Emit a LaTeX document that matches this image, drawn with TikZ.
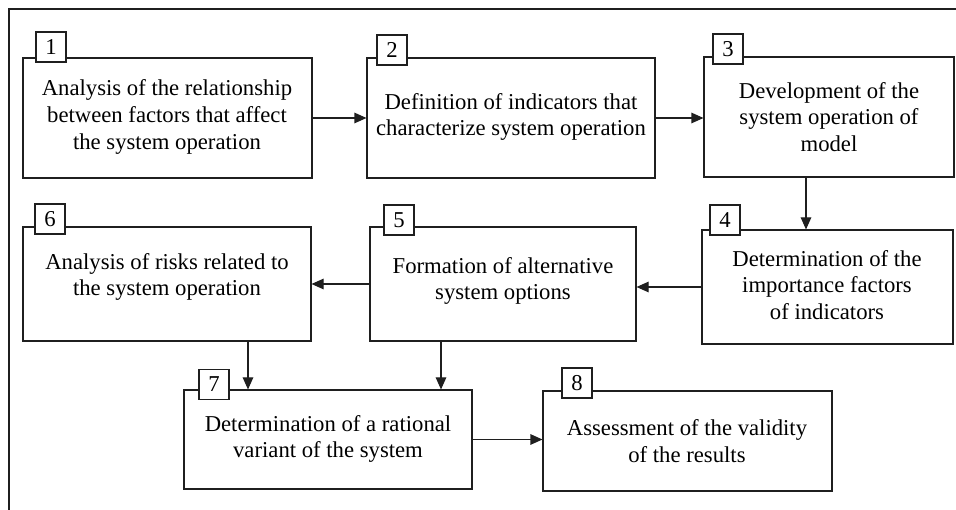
\documentclass[tikz,border=0pt]{standalone}
\usepackage{fontspec}
\setmainfont{Liberation Serif}
\usetikzlibrary{arrows.meta}
\begin{document}
\begin{tikzpicture}[x=1pt,y=-1pt,
  ink/.style={line width=1.1pt, draw=black!88},
  box/.style={ink, rectangle, inner sep=0pt},
  txt/.style={align=center, font=\fontsize{22.7}{26.7}\selectfont, inner sep=0pt},
  num/.style={ink, rectangle, fill=white, minimum size=30pt, inner sep=0pt,
              font=\fontsize{22.7}{26}\selectfont},
  arr/.style={ink, -{Triangle[length=12pt,width=10.5pt]}}]
\useasboundingbox (0,0) rectangle (956,510);

% outer frame (top and left sides)
\draw[ink] (9,510) -- (9,9) -- (956,9);

% step boxes
\node[box, minimum width=289pt, minimum height=120pt] (b1) at (167.5,118) {};
\node[box, minimum width=288pt, minimum height=120pt] (b2) at (511,118) {};
\node[box, minimum width=250pt, minimum height=120pt] (b3) at (829,117) {};
\node[box, minimum width=251pt, minimum height=114pt] (b4) at (827.5,287) {};
\node[box, minimum width=266pt, minimum height=114pt] (b5) at (503,284) {};
\node[box, minimum width=288pt, minimum height=114pt] (b6) at (167,284) {};
\node[box, minimum width=288pt, minimum height=99pt]  (b7) at (328,439.5) {};
\node[box, minimum width=289pt, minimum height=100pt] (b8) at (687.5,441) {};

% box texts
\node[txt] (t1) at (167,117) {Analysis of the relationship\\between factors that affect\\the system operation};
\node[txt] (t2) at (511,117) {Definition of indicators that\\characterize system operation};
\node[txt] (t3) at (829,117) {Development of the\\system operation of\\model};
\node[txt] (t4) at (827,285) {Determination of the\\importance factors\\of indicators};
\node[txt] (t5) at (503,281) {Formation of alternative\\system options};
\node[txt] (t6) at (167,277) {Analysis of risks related to\\the system operation};
\node[txt] (t7) at (328,439) {Determination of a rational\\variant of the system};
\node[txt] (t8) at (687,441) {Assessment of the validity\\of the results};

% step numbers
\node[num] (n1) at (51,47) {1};
\node[num] (n2) at (392,50) {2};
\node[num] (n3) at (728,49) {3};
\node[num] (n4) at (725,220) {4};
\node[num] (n5) at (399,220) {5};
\node[num] (n6) at (50,219) {6};
\node[num] (n7) at (214,384.5) {7};
\node[num] (n8) at (577,383) {8};

% connectors
\draw[arr] (b1.east) -- (b2.west);
\draw[arr] (b2.east) -- (b2.east -| b3.west);
\draw[arr] ([xshift=-23pt]b3.south) -- ([xshift=-23pt]b3.south |- b4.north);
\draw[arr] (b4.west) -- (b4.west -| b5.east);
\draw[arr] (b5.west) -- (b6.east);
\draw[arr] ([xshift=81pt]b6.south) -- ([xshift=81pt]b6.south |- b7.north);
\draw[arr] ([xshift=-62pt]b5.south) -- ([xshift=-62pt]b5.south |- b7.north);
\draw[arr] (b7.east) -- (b7.east -| b8.west);
\end{tikzpicture}
\end{document}
